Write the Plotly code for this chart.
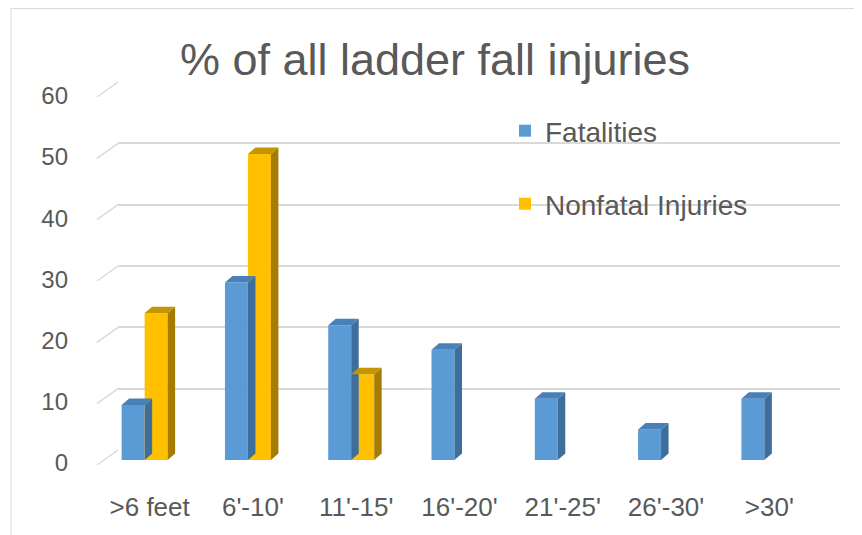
import plotly.graph_objects as go

categories = [">6 feet", "6'-10'", "11'-15'", "16'-20'", "21'-25'", "26'-30'", ">30'"]
fatalities = [9, 29, 22, 18, 10, 5, 10]
nonfatal = [24, 50, 14, None, None, None, None]
y_ticks = [0, 10, 20, 30, 40, 50, 60]

W, H = 862, 535
OFF = 8  # page body margin
def fx(px): return (px - OFF) / W
def fy(py): return 1 - (py - OFF) / H

FONT = "Liberation Sans, Arial, sans-serif"
TXT = "#595959"
GRID = "#d9d9d9"
BLUE, BLUE_SIDE, BLUE_TOP = "#5b9bd5", "#3e6e9b", "#4a80b8"
GOLD, GOLD_SIDE, GOLD_TOP = "#ffc000", "#a67c00", "#c49500"

w = 0.2225          # bar width in category units
dx = 0.0726         # depth offset (category units)
dy = 1.06           # depth offset (value units)
xs = list(range(len(categories)))

def faces(vals, off):
    sx, sy, tx, ty = [], [], [], []
    for i, v in zip(xs, vals):
        if v is None:
            continue
        xl, xr = i + off, i + off + w
        sx += [xr, xr + dx, xr + dx, xr, xr, None]
        sy += [0, dy, v + dy, v, 0, None]
        tx += [xl, xl + dx, xr + dx, xr, xl, None]
        ty += [v, v + dy, v + dy, v, v, None]
    return sx, sy, tx, ty

fig = go.Figure()
# invisible trace to create the back-wall grid subplot (x, y)
fig.add_trace(go.Scatter(x=[None], y=[None], xaxis="x", yaxis="y", showlegend=False, hoverinfo="skip"))

for vals, off, c, cs, ct, name, lg in [
    (fatalities, -w, BLUE, BLUE_SIDE, BLUE_TOP, "Fatalities", "legend"),
    (nonfatal, 0.0, GOLD, GOLD_SIDE, GOLD_TOP, "Nonfatal Injuries", "legend2"),
]:
    fig.add_trace(go.Bar(x=xs, y=vals, offset=off, width=w, marker=dict(color=c, line=dict(width=0)),
                         name=name, legend=lg, xaxis="x2", yaxis="y2"))
    sx, sy, tx, ty = faces(vals, off)
    fig.add_trace(go.Scatter(x=sx, y=sy, fill="toself", fillcolor=cs, mode="lines", line=dict(width=0, color=cs),
                             showlegend=False, hoverinfo="skip", xaxis="x2", yaxis="y2"))
    fig.add_trace(go.Scatter(x=tx, y=ty, fill="toself", fillcolor=ct, mode="lines", line=dict(width=0, color=ct),
                             showlegend=False, hoverinfo="skip", xaxis="x2", yaxis="y2"))

# back wall geometry (screen px)
BACK_L, BACK_R, BACK_B, BACK_T = 118, 840, 450, 82
FRONT_DX, FRONT_DY = 21, 15
shapes = []
for v in y_ticks:
    yb = BACK_B - (BACK_B - BACK_T) * v / y_ticks[-1]
    shapes.append(dict(type="line", xref="paper", yref="paper",
                       x0=fx(BACK_L - FRONT_DX), y0=fy(yb + FRONT_DY), x1=fx(BACK_L), y1=fy(yb),
                       line=dict(color=GRID, width=1.5), layer="below"))
shapes.append(dict(type="rect", xref="paper", yref="paper", x0=fx(11), x1=fx(858), y0=-0.05, y1=1 - 0.5 / H,
                   line=dict(color=GRID, width=1), layer="below"))

fig.update_layout(
    template="none",
    width=W, height=H, autosize=False,
    margin=dict(l=0, r=0, t=0, b=0, pad=0),
    paper_bgcolor="white", plot_bgcolor="rgba(0,0,0,0)",
    font=dict(family=FONT, color=TXT),
    title=dict(text="% of all ladder fall injuries", x=fx(435), xanchor="center", y=fy(59), yanchor="middle",
               font=dict(size=45, color=TXT, family=FONT), automargin=False),
    barmode="overlay",
    xaxis=dict(domain=[fx(BACK_L), fx(BACK_R)], range=[-0.5, 6.5], showgrid=False, zeroline=False,
               showticklabels=False, showline=False, anchor="y", automargin=False, ticks=""),
    yaxis=dict(domain=[fy(BACK_B), fy(BACK_T)], range=[0, 60], tickvals=y_ticks, showgrid=True, gridcolor=GRID,
               gridwidth=1.5, zeroline=False, showticklabels=False, showline=False, anchor="x",
               automargin=False, ticks=""),
    xaxis2=dict(domain=[fx(93), fx(816)], range=[-0.5, 6.5], tickvals=xs, ticktext=categories,
                showgrid=False, zeroline=False, showline=False, anchor="y2", automargin=False, ticks="",
                tickfont=dict(size=26, color=TXT), ticklabelstandoff=29, ticklabelshift=5),
    yaxis2=dict(domain=[fy(460), fy(92.8)], range=[0, 60], tickvals=y_ticks, showgrid=False, zeroline=False,
                showline=False, anchor="x2", automargin=False, ticks="", tickfont=dict(size=24, color=TXT),
                ticklabelstandoff=24, ticklabelshift=3),
    legend=dict(x=fx(505), xanchor="left", y=fy(131), yanchor="middle", bgcolor="rgba(0,0,0,0)",
                font=dict(size=28, color=TXT), borderwidth=0),
    legend2=dict(x=fx(505), xanchor="left", y=fy(204), yanchor="middle", bgcolor="rgba(0,0,0,0)",
                 font=dict(size=28, color=TXT), borderwidth=0),
    shapes=shapes,
)
fig.write_html("out.html")
